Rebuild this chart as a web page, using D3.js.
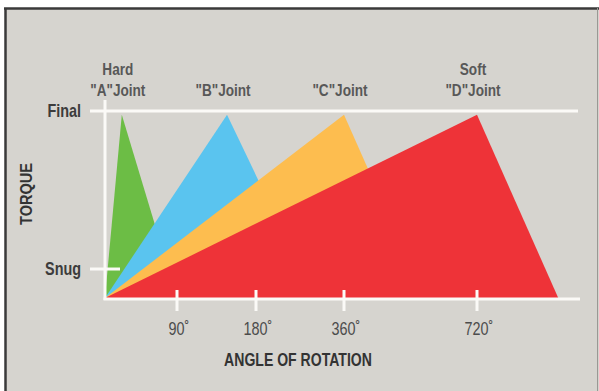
<!DOCTYPE html>
<html>
<head>
<meta charset="utf-8">
<script src="https://cdn.jsdelivr.net/npm/d3@7"></script>
<style>
  html, body { margin: 0; padding: 0; background: #fff; }
  svg { display: block; }
</style>
</head>
<body>
<svg id="chart"></svg>
<script>
// joints: name, top caption, torque peak angle, angle where torque drops off
const joints = ["A", "B", "C", "D"];
const jointCaptions = ["Hard", "", "", "Soft"];
const peakAngles = [21, 147, 360, 720];
const endAngles = [90, 300, 580, 940];
const peakTorque = [98, 98, 98, 98];
const jointColors = ["#6cbd45", "#5ac4ef", "#fdbd4f", "#ee3338"];

const angleTicks = [90, 180, 360, 720];
const torqueLevels = ["Snug", "Final"];
const torqueValues = [15.5, 100];

const W = 599, H = 391;
const origin = { x: 105, y: 298 };
const font = "'Liberation Sans', Arial, sans-serif";

const svg = d3.select("#chart").attr("width", W).attr("height", H);

// condensed text: draw in a group squeezed horizontally
function ctext(parent, tx, ty, str, opts) {
    const g = parent.append("g")
        .attr("transform", `translate(${tx},${ty}) scale(${opts.sx || 0.82},1)`);
    return g.append("text")
        .attr("text-anchor", opts.anchor || "middle")
        .style("font-family", font)
        .style("font-size", opts.size + "px")
        .style("font-weight", opts.weight || "normal")
        .style("fill", opts.fill || "#444")
        .text(str);
}

// panel
svg.append("rect")
    .attr("x", 5).attr("y", 8)
    .attr("width", W - 5).attr("height", H - 8)
    .attr("fill", "#d6d4cf");
svg.append("line")
    .attr("x1", 4).attr("x2", W).attr("y1", 8.5).attr("y2", 8.5)
    .attr("stroke", "#3a3a3a").attr("stroke-width", 2.5);
svg.append("line")
    .attr("x1", 5.5).attr("x2", 5.5).attr("y1", 8).attr("y2", H)
    .attr("stroke", "#3a3a3a").attr("stroke-width", 2.5);
svg.append("line")
    .attr("x1", W - 1.5).attr("x2", W - 1.5).attr("y1", 8).attr("y2", H)
    .attr("stroke", "#9a9894").attr("stroke-width", 1);

// schematic (non-linear) angle scale, piecewise through the tick angles
const x = d3.scaleLinear()
    .domain([0].concat(angleTicks))
    .range([0, 72, 151, 239, 372].map(v => origin.x + v));
const y = d3.scaleLinear().domain([0, 100]).range([origin.y, 111]);

// triangles, green first so red sits on top
const tri = joints.map((j, i) => ({
    name: j,
    caption: jointCaptions[i],
    pts: [[x(0), y(0)], [x(peakAngles[i]), y(peakTorque[i])], [x(endAngles[i]), y(0)]],
    color: jointColors[i]
}));

svg.selectAll(".joint")
    .data(tri)
    .enter().append("path")
    .attr("class", "joint")
    .attr("d", d => d3.line()(d.pts) + "Z")
    .attr("fill", d => d.color);

// axes in white
const axisColor = "#fbfaf7";
svg.append("line")
    .attr("x1", origin.x).attr("x2", origin.x)
    .attr("y1", 100).attr("y2", origin.y + 2)
    .attr("stroke", axisColor).attr("stroke-width", 3);
svg.append("line")
    .attr("x1", origin.x - 1.5).attr("x2", 580)
    .attr("y1", origin.y + 1).attr("y2", origin.y + 1)
    .attr("stroke", axisColor).attr("stroke-width", 3);

// Final line and Snug tick
svg.append("line")
    .attr("x1", 90).attr("x2", 578)
    .attr("y1", y(torqueValues[1])).attr("y2", y(torqueValues[1]))
    .attr("stroke", axisColor).attr("stroke-width", 3);
svg.append("line")
    .attr("x1", 90).attr("x2", 120)
    .attr("y1", y(torqueValues[0])).attr("y2", y(torqueValues[0]))
    .attr("stroke", axisColor).attr("stroke-width", 3);

torqueLevels.forEach((lab, i) => {
    ctext(svg, 81, y(torqueValues[i]) + 6, lab,
        { size: 18, weight: "bold", fill: "#3c3c3c", anchor: "end", sx: 0.8 });
});

// angle ticks
svg.selectAll(".xtick")
    .data(angleTicks)
    .enter().append("line")
    .attr("class", "xtick")
    .attr("x1", d => x(d)).attr("x2", d => x(d))
    .attr("y1", 290).attr("y2", 311)
    .attr("stroke", axisColor).attr("stroke-width", 3);

angleTicks.forEach(a => {
    ctext(svg, x(a) + 2, 335, a + "˚", { size: 18, fill: "#4c4c4c", sx: 0.8 });
});

// axis titles
ctext(svg, 298, 366, "ANGLE OF ROTATION", { size: 19, weight: "bold", fill: "#333", sx: 0.74 });

svg.append("text")
    .attr("transform", "translate(32,194) rotate(-90)")
    .attr("text-anchor", "middle")
    .style("font-family", font)
    .style("font-size", "16px")
    .style("font-weight", "bold")
    .style("fill", "#333")
    .attr("textLength", 62)
    .attr("lengthAdjust", "spacingAndGlyphs")
    .text("TORQUE");

// joint labels
tri.forEach(d => {
    const cx = d.pts[1][0] - 4;
    if (d.caption) ctext(svg, cx, 75, d.caption, { size: 17, weight: "bold", fill: "#585858", sx: 0.8 });
    ctext(svg, cx, 96, `"${d.name}"Joint`, { size: 17, weight: "bold", fill: "#585858", sx: 0.8 });
});
</script>
</body>
</html>
